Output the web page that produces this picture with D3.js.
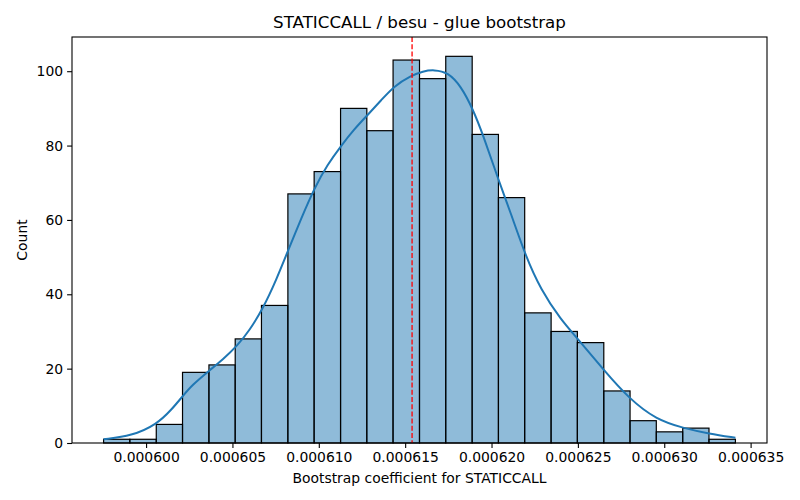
<!DOCTYPE html>
<html>
<head>
<meta charset="utf-8">
<script src="https://cdn.jsdelivr.net/npm/d3@7"></script>
<style>
  body { margin: 0; background: #fff; }
  svg text { font-family: "DejaVu Sans", sans-serif; fill: #000; }
</style>
</head>
<body>
<div id="chart"></div>
<script>
// histogram bin edges (25 edges -> 24 bins)
const binEdges = [
  0.00059754, 0.00059906, 0.00060059, 0.00060211, 0.00060364, 0.00060516,
  0.00060668, 0.00060821, 0.00060973, 0.00061126, 0.00061278, 0.00061430,
  0.00061583, 0.00061735, 0.00061888, 0.00062040, 0.00062192, 0.00062345,
  0.00062497, 0.00062650, 0.00062802, 0.00062954, 0.00063107, 0.00063259,
  0.00063412
];
const counts = [1, 1, 5, 19, 21, 28, 37, 67, 73, 90, 84, 103, 98, 104, 83, 66, 35, 30, 27, 14, 6, 3, 4, 1];

// kde curve
const kdeX = [
  0.00059754, 0.00059917, 0.00060062, 0.00060148, 0.00060212, 0.00060264,
  0.00060374, 0.00060443, 0.00060529, 0.00060599, 0.00060677, 0.00060755,
  0.00060824, 0.00060899, 0.00060974, 0.00061049, 0.00061130, 0.00061205,
  0.00061286, 0.00061361, 0.00061436, 0.00061534, 0.00061603, 0.00061667,
  0.00061748, 0.00061823, 0.00061892, 0.00061950, 0.00062036, 0.00062111,
  0.00062198, 0.00062285, 0.00062400, 0.00062504, 0.00062648, 0.00062799,
  0.00062954, 0.00063110, 0.00063260, 0.00063412
];
const kdeY = [
  1.0, 1.9, 5.0, 9.0, 12.6, 15.5,
  19.8, 22.4, 26.2, 30.3, 36.2, 44.0,
  52.0, 60.5, 68.5, 74.8, 80.0, 84.4,
  88.4, 92.2, 96.0, 98.8, 100.0, 100.4,
  99.7, 96.0, 89.8, 83.0, 71.3, 61.9,
  50.2, 41.3, 33.2, 27.8, 19.7, 11.8,
  6.3, 4.0, 2.5, 1.4
];

const meanValue = 0.0006154;
const xTicks = [0.000600, 0.000605, 0.000610, 0.000615, 0.000620, 0.000625, 0.000630, 0.000635];
const yTicks = [0, 20, 40, 60, 80, 100];

const titleText = "STATICCALL / besu - glue bootstrap";
const xLabel = "Bootstrap coefficient for STATICCALL";
const yLabel = "Count";

const margin = {top: 37, right: 33, bottom: 57, left: 72},
      width = 800 - margin.left - margin.right,
      height = 500 - margin.top - margin.bottom;

const svg = d3.select("#chart")
  .append("svg")
    .attr("width", 800)
    .attr("height", 500)
  .append("g")
    .attr("transform", `translate(${margin.left},${margin.top})`);

// matplotlib-style 5% padding around the data
const xMin = binEdges[0], xMax = binEdges[binEdges.length - 1];
const pad = (xMax - xMin) * 0.05;
const x = d3.scaleLinear()
  .domain([xMin - pad, xMax + pad])
  .range([0, width]);

const y = d3.scaleLinear()
  .domain([0, d3.max(counts) * 1.05])
  .range([height, 0]);

const bins = counts.map((c, i) => ({x0: binEdges[i], x1: binEdges[i + 1], count: c}));

svg.selectAll("rect.bar")
  .data(bins)
  .join("rect")
    .attr("class", "bar")
    .attr("x", d => x(d.x0))
    .attr("y", d => y(d.count))
    .attr("width", d => x(d.x1) - x(d.x0))
    .attr("height", d => y(0) - y(d.count))
    .attr("fill", "#1f77b4")
    .attr("fill-opacity", 0.5)
    .attr("stroke", "#000")
    .attr("stroke-width", 1.2);

const kde = kdeX.map((v, i) => ({x: v, y: kdeY[i]}));
const line = d3.line()
  .x(d => x(d.x))
  .y(d => y(d.y))
  .curve(d3.curveBasis);

svg.append("path")
  .datum(kde)
  .attr("fill", "none")
  .attr("stroke", "#1f77b4")
  .attr("stroke-width", 2)
  .attr("d", line);

svg.append("line")
  .attr("x1", x(meanValue))
  .attr("x2", x(meanValue))
  .attr("y1", 0)
  .attr("y2", height)
  .attr("stroke", "red")
  .attr("stroke-width", 1.3)
  .attr("stroke-dasharray", "5,2.2");

// axes
const xAxis = svg.append("g")
  .attr("transform", `translate(0,${height})`)
  .call(d3.axisBottom(x).tickValues(xTicks).tickFormat(d3.format(".6f")).tickSize(4.9).tickPadding(4));

const yAxis = svg.append("g")
  .call(d3.axisLeft(y).tickValues(yTicks).tickSize(4.9).tickPadding(4));

[xAxis, yAxis].forEach(a => {
  a.select(".domain").remove();
  a.selectAll(".tick line").attr("stroke", "#000").attr("stroke-width", 1.1);
  a.selectAll(".tick text").style("font-size", "13.9px").attr("fill", "#000");
});

// frame
svg.append("rect")
  .attr("x", 0).attr("y", 0)
  .attr("width", width).attr("height", height)
  .attr("fill", "none")
  .attr("stroke", "#000")
  .attr("stroke-width", 1.1);

svg.append("text")
  .attr("x", width / 2)
  .attr("y", -9)
  .attr("text-anchor", "middle")
  .style("font-size", "16.7px")
  .text(titleText);

svg.append("text")
  .attr("x", width / 2)
  .attr("y", height + 40)
  .attr("text-anchor", "middle")
  .style("font-size", "13.9px")
  .text(xLabel);

svg.append("text")
  .attr("transform", `translate(${-45},${height / 2}) rotate(-90)`)
  .attr("text-anchor", "middle")
  .style("font-size", "13.9px")
  .text(yLabel);
</script>
</body>
</html>
